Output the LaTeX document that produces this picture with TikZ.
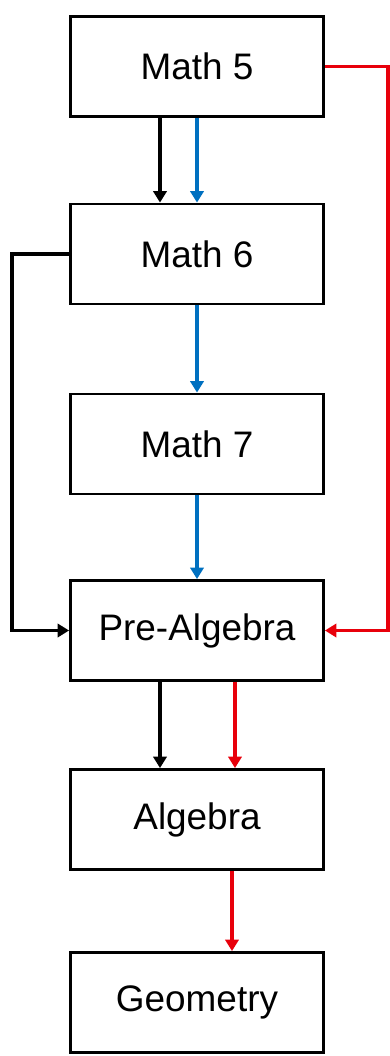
\documentclass[tikz,border=0pt]{standalone}
\usepackage{fontspec}
\setmainfont{Liberation Sans}
\usetikzlibrary{arrows.meta,positioning,calc}
\definecolor{arrblue}{HTML}{0070C0}
\definecolor{arrred}{HTML}{E8000B}

\begin{document}
\begin{tikzpicture}[
			course/.style={draw=black,line width=1.6pt,fill=white,minimum width=5.06cm,minimum height=2.0cm,inner sep=0pt,align=center,font=\fontsize{21}{25}\selectfont},
			link/.style={-{Triangle[length=6.5pt,width=7.5pt]},line width=2.2pt},
			blk/.style={link,draw=black},
			blu/.style={link,draw=arrblue},
			rd/.style={link,draw=arrred}
			]
			\useasboundingbox (0,0) rectangle (7.8,-21.12);
			\node[course] (m5) at (3.94,-1.33) {Math 5};
			\node[course] (m6) at (3.94,-5.08) {Math 6};
			\node[course] (m7) at (3.94,-8.88) {Math 7};
			\node[course] (pa) at (3.94,-12.61) {Pre-Algebra};
			\node[course] (al) at (3.94,-16.39) {Algebra};
			\node[course] (ge) at (3.94,-20.05) {Geometry};
			% chain of arrows
			\draw[blk] ([xshift=-0.74cm]m5.south) -- ([xshift=-0.74cm]m6.north);
			\draw[blu] (m5.south) -- (m6.north);
			\draw[blu] (m6.south) -- (m7.north);
			\draw[blu] (m7.south) -- (pa.north);
			\draw[blk] ([xshift=-0.74cm]pa.south) -- ([xshift=-0.74cm]al.north);
			\draw[rd] ([xshift=0.76cm]pa.south) -- ([xshift=0.76cm]al.north);
			\draw[rd] ([xshift=0.7cm]al.south) -- ([xshift=0.7cm]ge.north);
			% side loops
			\coordinate (lft) at (0.24,-5.08);
			\coordinate (rgt) at (7.76,-1.33);
			\draw[blk] (m6.west) -- (lft) |- (pa.west);
			\draw[rd] (m5.east) -- (rgt) |- (pa.east);
		\end{tikzpicture}
\end{document}
